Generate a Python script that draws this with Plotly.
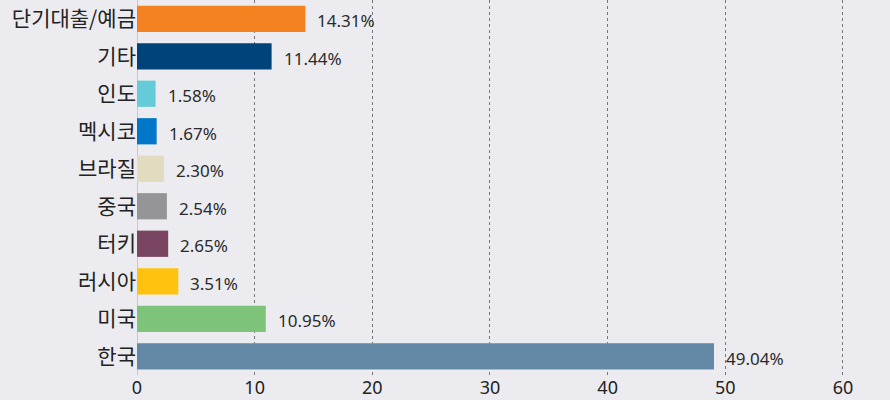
import plotly.graph_objects as go

categories = ["단기대출/예금", "기타", "인도", "멕시코", "브라질", "중국", "터키", "러시아", "미국", "한국"]
values = [14.31, 11.44, 1.58, 1.67, 2.30, 2.54, 2.65, 3.51, 10.95, 49.04]
colors = ["#f58220", "#00427a", "#66cbd9", "#0077c8", "#e1dcbf", "#959597",
          "#7a4560", "#ffc20e", "#7dc47a", "#6389a6"]
x_ticks = [0, 10, 20, 30, 40, 50, 60]

fig = go.Figure()
fig.add_trace(go.Bar(
    x=values, y=categories, orientation="h",
    marker=dict(color=colors, line=dict(width=0)),
    width=0.7, hoverinfo="skip",
))
for c, v in zip(categories, values):
    fig.add_annotation(x=v, y=c, text=f"{v:.2f}%", showarrow=False,
                       xanchor="left", yanchor="middle", xshift=10, yshift=-2,
                       font=dict(size=17, color="#2a2a2a", family="Noto Sans, sans-serif"))

fig.update_layout(
    width=890, height=400,
    margin=dict(l=137, r=0, t=0, b=25),
    paper_bgcolor="#ececf0", plot_bgcolor="#ececf0",
    showlegend=False,
    font=dict(family="Noto Sans CJK KR, sans-serif", color="#222222"),
    xaxis=dict(range=[0, 64], tickvals=x_ticks, ticktext=[str(t) for t in x_ticks],
               showgrid=True, gridcolor="#777777", griddash="dot", gridwidth=1,
               zeroline=True, zerolinecolor="#c8c8c8", zerolinewidth=1,
               tickfont=dict(size=18, color="#222222", family="Noto Sans, sans-serif"),
               ticks="", fixedrange=True),
    yaxis=dict(autorange="reversed", tickfont=dict(size=21, color="#222222"),
               showgrid=False, ticks="", ticklen=0, showline=False),
    bargap=0.3,
)
fig.write_html("out.html")
